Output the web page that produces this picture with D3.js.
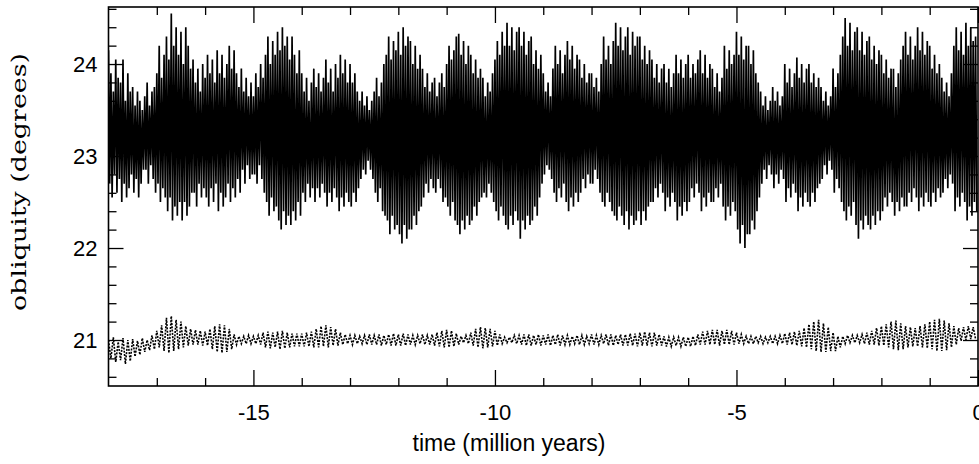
<!DOCTYPE html>
<html>
<head>
<meta charset="utf-8">
<script src="https://cdn.jsdelivr.net/npm/d3@7"></script>
<style>
body { margin: 0; background: #fff; }
svg { display: block; }
.tick text { font-family: "Liberation Sans", Arial, sans-serif; font-size: 22px; fill: #000; }
.tick line { stroke: #000; stroke-width: 1.3; }
</style>
</head>
<body>
<svg width="979" height="464"></svg>
<script>
// upper curve: one peak and one trough per 0.05 Myr, starting at -18
var upperStep = 0.05;
var upperMax = [
  24.15,23.9,23.7,24.05,23.85, 23.8,24.05,23.6,23.9,23.7, 23.75,23.55,23.7,23.6,23.5, 23.65,23.8,23.55,23.7,23.75,
  23.9,24.2,23.85,24.1,24.3, 24.05,24.55,24.2,24.4,24.1, 24.35,24.0,24.4,24.2,23.95, 24.05,23.8,23.95,23.7,24.0,
  23.85,24.1,23.9,24.05,23.8, 24.15,23.9,24.1,23.85,24.0, 24.2,23.95,24.15,23.9,23.75, 23.95,23.7,23.85,23.65,23.8,
  23.65,23.9,23.75,24.0,23.85, 24.1,24.3,24.0,24.25,24.1, 24.35,24.15,24.4,24.2,24.3, 24.05,24.3,24.1,23.9,24.15,
  23.9,23.7,23.85,23.6,23.8, 23.95,23.75,23.9,23.7,23.85, 24.05,23.8,23.95,23.7,24.0, 23.85,24.1,23.9,24.05,23.8,
  24.0,23.8,23.9,23.7,23.6, 23.7,23.55,23.65,23.5,23.6, 23.7,23.85,23.65,23.8,24.0, 24.1,24.3,24.05,24.25,24.15,
  24.35,24.1,24.4,24.2,24.3, 24.25,24.0,24.2,23.95,24.1, 23.95,23.75,23.9,23.7,23.8, 23.85,23.65,23.8,23.9,23.75,
  24.0,24.2,24.05,24.15,24.3, 24.33,24.1,24.25,24.0,24.2, 24.1,23.9,24.05,23.85,23.95, 23.85,23.65,23.8,23.7,23.9,
  24.05,24.25,24.1,24.35,24.2, 24.45,24.2,24.4,24.15,24.35, 24.4,24.2,24.35,24.1,24.25, 24.3,24.0,24.15,23.95,24.1,
  23.9,23.7,23.8,23.65,23.95, 24.2,24.0,24.15,23.9,24.1, 24.25,24.05,24.2,23.95,24.1, 24.05,23.85,24.0,23.8,23.9,
  23.9,23.75,23.85,23.7,24.0, 24.3,24.05,24.2,24.0,24.25, 24.45,24.2,24.4,24.15,24.3, 24.4,24.1,24.35,24.2,24.3,
  24.3,24.05,24.2,24.0,24.15, 24.05,23.85,24.0,23.8,23.95, 24.0,23.8,23.95,23.75,23.9, 24.1,23.9,24.05,23.85,24.0,
  24.1,23.85,24.0,23.9,24.05, 24.15,23.9,24.1,23.85,24.0, 23.95,23.75,23.9,23.7,23.85, 24.2,23.95,24.15,24.0,24.1,
  24.35,24.1,24.3,24.05,24.2, 24.2,24.0,24.15,23.9,23.8, 23.7,23.55,23.65,23.5,23.6, 23.75,23.6,23.7,23.55,23.65,
  24.0,23.8,23.95,23.75,23.9, 24.07,23.85,24.0,23.8,23.95, 24.0,23.8,23.9,23.75,23.85, 23.75,23.6,23.7,23.55,23.65,
  23.95,23.75,23.9,24.1,24.3, 24.5,24.2,24.45,24.15,24.35, 24.4,24.15,24.35,24.1,24.25, 24.3,24.05,24.2,24.0,24.15,
  24.1,23.9,24.05,23.85,23.95, 23.95,23.75,23.9,24.05,24.2, 24.35,24.1,24.3,24.05,24.2, 24.4,24.15,24.35,24.1,24.25,
  24.2,23.95,24.1,23.9,24.0, 23.85,23.7,23.8,23.65,23.9, 24.2,24.4,24.15,24.35,24.1, 24.45,24.2,24.4,24.25,24.3
];
var upperMin = [
  22.7,22.55,22.8,22.6,22.75, 22.5,22.7,22.55,22.65,22.8, 22.6,22.75,22.55,22.7,22.85, 22.85,22.7,22.9,22.75,22.6,
  22.7,22.5,22.65,22.55,22.4, 22.55,22.3,22.45,22.35,22.5, 22.3,22.5,22.35,22.45,22.6, 22.6,22.45,22.7,22.55,22.65,
  22.55,22.45,22.65,22.5,22.7, 22.4,22.6,22.45,22.55,22.7, 22.5,22.65,22.55,22.75,22.6, 22.85,22.7,22.9,22.75,22.8,
  22.8,22.7,22.9,22.75,22.6, 22.5,22.35,22.55,22.4,22.45, 22.3,22.2,22.4,22.25,22.35, 22.25,22.4,22.3,22.5,22.35,
  22.6,22.5,22.7,22.55,22.65, 22.5,22.65,22.55,22.7,22.6, 22.45,22.6,22.5,22.65,22.55, 22.4,22.55,22.45,22.6,22.5,
  22.45,22.6,22.5,22.65,22.75, 22.85,22.8,22.95,22.85,22.75, 22.6,22.5,22.65,22.4,22.35, 22.3,22.15,22.35,22.2,22.25,
  22.15,22.05,22.25,22.1,22.2, 22.2,22.35,22.25,22.4,22.45, 22.55,22.7,22.6,22.75,22.65, 22.6,22.75,22.65,22.5,22.55,
  22.45,22.35,22.5,22.3,22.25, 22.15,22.3,22.2,22.35,22.25, 22.3,22.45,22.35,22.5,22.55, 22.6,22.55,22.7,22.6,22.5,
  22.4,22.3,22.45,22.35,22.25, 22.2,22.35,22.25,22.4,22.3, 22.1,22.3,22.2,22.35,22.25, 22.3,22.45,22.35,22.55,22.7,
  22.8,22.9,22.85,22.75,22.6, 22.5,22.65,22.55,22.7,22.5, 22.4,22.55,22.45,22.6,22.5, 22.6,22.75,22.65,22.8,22.7,
  22.7,22.85,22.75,22.6,22.5, 22.45,22.6,22.5,22.4,22.35, 22.3,22.45,22.35,22.25,22.4, 22.2,22.35,22.25,22.3,22.4,
  22.25,22.4,22.3,22.45,22.5, 22.5,22.65,22.55,22.7,22.6, 22.4,22.55,22.45,22.6,22.5, 22.3,22.45,22.35,22.5,22.4,
  22.5,22.65,22.55,22.7,22.6, 22.4,22.55,22.45,22.6,22.5, 22.5,22.65,22.55,22.7,22.45, 22.3,22.45,22.35,22.5,22.4,
  22.2,22.05,22.25,22.0,22.15, 22.15,22.3,22.2,22.4,22.55, 22.7,22.85,22.75,22.9,22.8, 22.65,22.8,22.7,22.85,22.75,
  22.5,22.65,22.55,22.7,22.6, 22.4,22.55,22.45,22.6,22.5, 22.45,22.6,22.5,22.65,22.7, 22.75,22.9,22.8,22.95,22.85,
  22.6,22.75,22.65,22.5,22.4, 22.3,22.45,22.35,22.5,22.25, 22.1,22.3,22.2,22.35,22.25, 22.2,22.35,22.25,22.4,22.3,
  22.4,22.55,22.45,22.6,22.5, 22.35,22.5,22.4,22.55,22.45, 22.45,22.6,22.5,22.65,22.55, 22.4,22.55,22.45,22.6,22.5,
  22.45,22.6,22.5,22.65,22.55, 22.6,22.75,22.65,22.8,22.7, 22.4,22.55,22.45,22.6,22.5, 22.3,22.45,22.35,22.5,22.4
];

// lower curve: one peak and one trough per 0.1 Myr
var lowerStep = 0.1;
var lowerMax = [
  21.0,21.03,20.98,21.02,21.0, 21.01,20.99,21.02,21.0,21.05,
  21.1,21.16,21.24,21.26,21.22, 21.2,21.15,21.12,21.11,21.1,
  21.09,21.12,21.15,21.17,21.16, 21.12,21.06,21.04,21.04,21.05,
  21.04,21.05,21.08,21.09,21.08, 21.09,21.1,21.08,21.07,21.07,
  21.07,21.08,21.09,21.12,21.15, 21.16,21.14,21.12,21.08,21.06,
  21.05,21.05,21.04,21.05,21.06, 21.05,21.06,21.05,21.06,21.07,
  21.06,21.07,21.06,21.05,21.05, 21.06,21.05,21.06,21.08,21.1,
  21.11,21.1,21.07,21.04,21.05, 21.08,21.12,21.14,21.13,21.12,
  21.1,21.06,21.03,21.03,21.05, 21.05,21.06,21.06,21.05,21.06,
  21.05,21.06,21.05,21.06,21.05, 21.05,21.04,21.05,21.05,21.04,
  21.06,21.05,21.05,21.06,21.06, 21.05,21.06,21.06,21.07,21.07,
  21.08,21.09,21.08,21.08,21.06, 21.04,21.03,21.03,21.03,21.03,
  21.03,21.04,21.06,21.09,21.1, 21.11,21.11,21.1,21.11,21.1,
  21.08,21.06,21.04,21.04,21.04, 21.04,21.03,21.04,21.04,21.05,
  21.07,21.08,21.09,21.1,21.13, 21.17,21.2,21.22,21.18,21.14,
  21.08,21.04,21.04,21.05,21.05, 21.05,21.06,21.08,21.1,21.13,
  21.15,21.17,21.2,21.21,21.18, 21.15,21.14,21.13,21.15,21.17,
  21.2,21.22,21.23,21.21,21.18, 21.15,21.13,21.14,21.15,21.14
];
var lowerMin = [
  20.8,20.76,20.78,20.74,20.77, 20.82,20.84,20.87,20.89,20.9,
  20.92,20.88,20.86,20.88,20.9, 20.92,20.94,20.95,20.95,20.94,
  20.94,20.9,20.87,20.86,20.87, 20.9,20.95,20.96,20.96,20.96,
  20.96,20.95,20.92,20.91,20.92, 20.9,20.91,20.92,20.93,20.93,
  20.93,20.93,20.92,20.92,20.93, 20.92,20.94,20.94,20.95,20.96,
  20.95,20.96,20.96,20.95,20.95, 20.95,20.94,20.95,20.94,20.94,
  20.94,20.94,20.95,20.95,20.96, 20.95,20.95,20.94,20.93,20.92,
  20.92,20.93,20.95,20.97,20.96, 20.94,20.92,20.91,20.92,20.93,
  20.94,20.96,20.97,20.97,20.96, 20.95,20.94,20.94,20.95,20.94,
  20.95,20.94,20.95,20.94,20.95, 20.95,20.96,20.95,20.95,20.96,
  20.95,20.95,20.96,20.94,20.94, 20.95,20.94,20.94,20.94,20.93,
  20.94,20.94,20.93,20.94,20.94, 20.93,20.93,20.94,20.93,20.93,
  20.93,20.94,20.95,20.95,20.95, 20.95,20.94,20.95,20.95,20.95,
  20.96,20.96,20.96,20.96,20.97, 20.96,20.97,20.96,20.96,20.96,
  20.95,20.95,20.94,20.93,20.92, 20.9,20.88,20.87,20.87,20.88,
  20.88,20.92,20.96,20.97,20.97, 20.97,20.96,20.95,20.95,20.94,
  20.94,20.92,20.9,20.89,20.9, 20.92,20.93,20.93,20.92,20.91,
  20.9,20.88,20.88,20.89,20.92, 20.95,20.99,21.0,21.01,21.01
];

var xMajor = [-15, -10, -5, 0];
var yMajor = [21, 22, 23, 24];
var xLabel = "time (million years)";
var yLabel = "obliquity (degrees)";

var svg = d3.select("svg");
var plotLeft = 108.5, plotRight = 978, plotTop = 7, plotBottom = 386;

var x = d3.scaleLinear().domain([-18, 0]).range([plotLeft, plotRight]);
var y = d3.scaleLinear().domain([20.5, 24.62]).range([plotBottom, plotTop]);

var xMinor = d3.range(-17, 0).filter(function(d) { return d % 5 != 0; });
var yMinor = d3.range(103, 124).filter(function(k) { return k % 5 != 0; }).map(function(k) { return k / 5; });

// plain hyphen for negatives, like the original
function plainNum(d) { return String(d); }

function zigzag(maxs, mins, step) {
  var pts = [];
  maxs.forEach(function(v, i) {
    var t = -18 + i * step;
    pts.push([t, v]);
    pts.push([t + step / 2, mins[i]]);
  });
  return pts;
}

svg.append("clipPath").attr("id", "plot")
  .append("rect")
    .attr("x", plotLeft).attr("y", plotTop)
    .attr("width", plotRight - plotLeft).attr("height", plotBottom - plotTop);

var line = d3.line()
    .x(function(d) { return x(d[0]); })
    .y(function(d) { return y(d[1]); });

svg.append("path")
    .datum(zigzag(upperMax, upperMin, upperStep))
    .attr("clip-path", "url(#plot)")
    .attr("fill", "none")
    .attr("stroke", "#000")
    .attr("stroke-width", 1.7)
    .attr("stroke-linejoin", "miter")
    .attr("stroke-miterlimit", 2)
    .attr("d", line);

svg.append("path")
    .datum(zigzag(lowerMax, lowerMin, lowerStep))
    .attr("clip-path", "url(#plot)")
    .attr("fill", "none")
    .attr("stroke", "#000")
    .attr("stroke-width", 1.6)
    .attr("stroke-dasharray", "2,1.3")
    .attr("d", line);

// axes, ticks pointing inward on all four sides
function noDomain(g) { g.select(".domain").remove(); }

svg.append("g").attr("transform", "translate(0," + plotBottom + ")")
    .call(d3.axisBottom(x).tickValues(xMajor).tickSize(-16).tickPadding(18).tickFormat(plainNum))
    .call(noDomain);
svg.append("g").attr("transform", "translate(0," + plotBottom + ")")
    .call(d3.axisBottom(x).tickValues(xMinor).tickSize(-8).tickFormat(""))
    .call(noDomain);
svg.append("g").attr("transform", "translate(0," + plotTop + ")")
    .call(d3.axisTop(x).tickValues(xMajor).tickSize(-16).tickFormat(""))
    .call(noDomain);
svg.append("g").attr("transform", "translate(0," + plotTop + ")")
    .call(d3.axisTop(x).tickValues(xMinor).tickSize(-8).tickFormat(""))
    .call(noDomain);

svg.append("g").attr("transform", "translate(" + plotLeft + ",0)")
    .call(d3.axisLeft(y).tickValues(yMajor).tickSize(-15).tickPadding(11).tickFormat(plainNum))
    .call(noDomain);
svg.append("g").attr("transform", "translate(" + plotLeft + ",0)")
    .call(d3.axisLeft(y).tickValues(yMinor).tickSize(-8).tickFormat(""))
    .call(noDomain);
svg.append("g").attr("transform", "translate(" + plotRight + ",0)")
    .call(d3.axisRight(y).tickValues(yMajor).tickSize(-15).tickFormat(""))
    .call(noDomain);
svg.append("g").attr("transform", "translate(" + plotRight + ",0)")
    .call(d3.axisRight(y).tickValues(yMinor).tickSize(-8).tickFormat(""))
    .call(noDomain);

svg.append("rect")
    .attr("x", plotLeft).attr("y", plotTop)
    .attr("width", plotRight - plotLeft).attr("height", plotBottom - plotTop)
    .attr("fill", "none").attr("stroke", "#000").attr("stroke-width", 1.6);

svg.append("text")
    .attr("x", 509).attr("y", 451)
    .attr("text-anchor", "middle")
    .style("font-family", "'Liberation Sans', Arial, sans-serif")
    .style("font-size", "23px")
    .text(xLabel);

svg.append("text")
    .attr("transform", "translate(26,182) rotate(-90)")
    .attr("text-anchor", "middle")
    .attr("textLength", 258)
    .attr("lengthAdjust", "spacingAndGlyphs")
    .style("font-family", "'DejaVu Serif', serif")
    .style("font-size", "21px")
    .text(yLabel);
</script>
</body>
</html>
